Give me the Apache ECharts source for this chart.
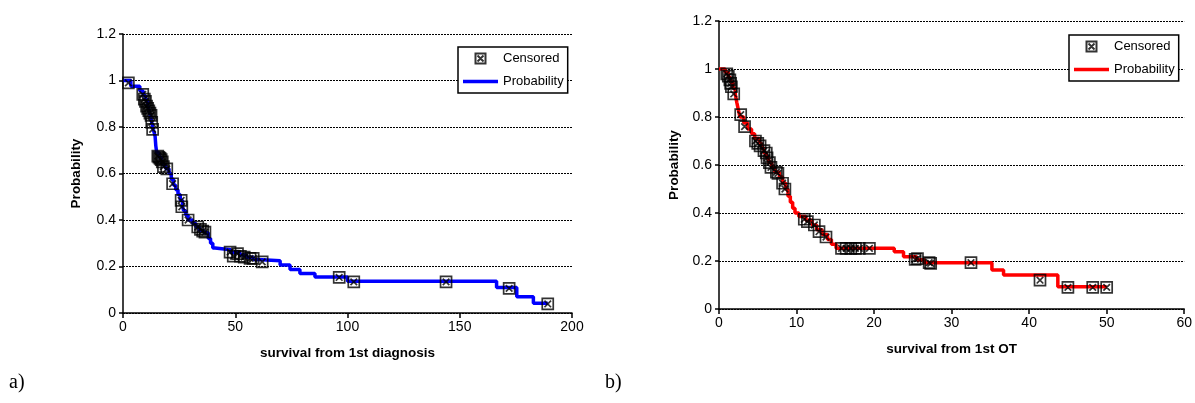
<!DOCTYPE html>
<html>
<head>
<meta charset="utf-8">
<script src="https://cdn.jsdelivr.net/npm/echarts@6/dist/echarts.min.js"></script>
<style>
  html, body { margin: 0; padding: 0; background: #fff; }
  #main { width: 1195px; height: 403px; }
</style>
</head>
<body>
<div id="main"></div>
<script>
// a) survival from 1st diagnosis: Kaplan-Meier steps [time, probability]
const stepsA = [
  [0, 1], [3.5, 0.975], [7.5, 0.955], [9, 0.935], [10, 0.915], [11, 0.895],
  [11.5, 0.875], [12, 0.855], [12.5, 0.835], [13, 0.81], [13.5, 0.79],
  [14.3, 0.76], [14.6, 0.72], [15, 0.69], [16, 0.67], [17, 0.65], [18, 0.635],
  [19, 0.62], [20.5, 0.6], [21.5, 0.575], [22.5, 0.55], [23.5, 0.53],
  [24.5, 0.51], [25.5, 0.485], [26.5, 0.46], [27, 0.44], [28, 0.42], [29, 0.4],
  [31, 0.385], [32.5, 0.37], [34, 0.355], [36, 0.345], [38, 0.32], [39, 0.3],
  [40, 0.28], [41, 0.272], [48, 0.26], [52, 0.25], [55, 0.24], [58, 0.23],
  [60, 0.225], [70, 0.206], [74.4, 0.187], [78.8, 0.17], [85.5, 0.155],
  [100, 0.137], [166.4, 0.11], [175.4, 0.07], [182.8, 0.042], [189.2, 0.042]
]
// a) censored observations
const censoredA = [
  [2.4, 0.99], [8.8, 0.94], [9.5, 0.92], [10, 0.91], [10.5, 0.89], [11, 0.88],
  [11.5, 0.87], [12, 0.86], [12.5, 0.85], [12.8, 0.82], [13.2, 0.79],
  [15.5, 0.675], [16, 0.67], [16.5, 0.665], [17, 0.66], [17.5, 0.65],
  [18, 0.63], [19.5, 0.62], [22.1, 0.556], [25.9, 0.484], [26.2, 0.457],
  [29, 0.4], [33.3, 0.37], [34.5, 0.36], [35.5, 0.352], [36.5, 0.348],
  [47.7, 0.262], [49.1, 0.245], [51, 0.255], [52.3, 0.244], [54, 0.24],
  [56.6, 0.235], [58, 0.235], [62, 0.22], [96.3, 0.153], [102.8, 0.134],
  [143.9, 0.134], [172, 0.106], [189.2, 0.039]
]

// b) survival from 1st OT
const stepsB = [
  [0, 1], [0.8, 0.985], [1.2, 0.965], [1.5, 0.945], [1.8, 0.92], [2.1, 0.895],
  [2.3, 0.86], [2.5, 0.83], [2.7, 0.8], [3.2, 0.775], [3.7, 0.75], [4.2, 0.73],
  [4.6, 0.71], [5.2, 0.69], [5.5, 0.67], [5.8, 0.65], [6.1, 0.63], [6.4, 0.61],
  [6.8, 0.59], [7.2, 0.57], [7.8, 0.55], [8.2, 0.525], [8.6, 0.5], [8.9, 0.47],
  [9.2, 0.445], [9.5, 0.42], [9.8, 0.4], [10.3, 0.385], [11.2, 0.37],
  [12, 0.35], [12.6, 0.33], [13.3, 0.31], [14, 0.29], [14.5, 0.27],
  [15.1, 0.253], [22.6, 0.239], [23.8, 0.218], [25.5, 0.205], [26.5, 0.193],
  [35.2, 0.163], [36.7, 0.142], [43.7, 0.093], [50, 0.093]
]
const censoredB = [
  [1.0, 0.98], [1.2, 0.97], [1.4, 0.955], [1.5, 0.94], [1.6, 0.926],
  [1.9, 0.896], [2.8, 0.81], [3.3, 0.76], [4.7, 0.7], [5.0, 0.69], [5.3, 0.68],
  [5.8, 0.66], [6.1, 0.65], [6.2, 0.63], [6.5, 0.61], [6.7, 0.59], [7.4, 0.57],
  [7.6, 0.565], [8.2, 0.524], [8.5, 0.5], [11.0, 0.374], [11.4, 0.364],
  [12.3, 0.35], [12.9, 0.322], [13.8, 0.3], [15.8, 0.253], [16.4, 0.253],
  [17, 0.253], [17.6, 0.253], [18.1, 0.253], [19.4, 0.253], [25.3, 0.207],
  [25.6, 0.21], [27.1, 0.193], [27.3, 0.19], [32.5, 0.193], [41.4, 0.12],
  [45, 0.09], [48.2, 0.09], [50, 0.09]
]

// axis ranges
const xMaxA = 200
const xStepA = 50
const xMaxB = 60
const xStepB = 10
const yMax = 1.2
const yStep = 0.2

const font = 'Liberation Sans, Arial, sans-serif'
// square with a cross inside (censored mark)
const boxX = 'path://M0,0L10,0L10,10L0,10Z M2,2L8,8 M8,2L2,8'
// plain line for the legend (no dot in the middle)
const lineIcon = 'path://M0,0L35,0L35,3.5L0,3.5Z'

const chart = echarts.init(document.getElementById('main'))

function xAxis (gridIndex, max, interval, name) {
  return {
    type: 'value',
    gridIndex: gridIndex,
    min: 0,
    max: max,
    interval: interval,
    name: name,
    nameLocation: 'middle',
    nameGap: 33,
    nameTextStyle: { color: '#000', fontFamily: font, fontSize: 13.5, fontWeight: 'bold' },
    axisLine: { lineStyle: { color: '#000', width: 1.5 } },
    axisTick: { length: 5, lineStyle: { color: '#000', width: 1.5 } },
    axisLabel: { color: '#000', fontFamily: font, fontSize: 14, margin: 7 },
    splitLine: { show: false }
  }
}

function yAxis (gridIndex, nameGap) {
  return {
    type: 'value',
    gridIndex: gridIndex,
    min: 0,
    max: yMax,
    interval: yStep,
    name: 'Probability',
    nameLocation: 'middle',
    nameGap: nameGap,
    nameRotate: 90,
    nameTextStyle: { color: '#000', fontFamily: font, fontSize: 13.5, fontWeight: 'bold' },
    axisLine: { show: true, lineStyle: { color: '#000', width: 1.5 } },
    axisTick: { show: true, length: 4, lineStyle: { color: '#000', width: 1.5 } },
    axisLabel: { color: '#000', fontFamily: font, fontSize: 14, margin: 7 },
    splitLine: { show: true, lineStyle: { color: '#000', width: 1, type: [2, 1] } }
  }
}

function legend (left, top, suffix) {
  return {
    left: left,
    top: top,
    orient: 'vertical',
    data: [
      { name: 'Censored' + suffix },
      { name: 'Probability' + suffix, icon: lineIcon }
    ],
    formatter: (name) => name.split('-')[0],
    backgroundColor: '#fff',
    borderColor: '#000',
    borderWidth: 1.5,
    borderRadius: 0,
    padding: [5, 4, 5, 5],
    itemWidth: 35,
    itemHeight: 10,
    itemGap: 10,
    textStyle: { color: '#000', fontFamily: font, fontSize: 13 }
  }
}

function censored (name, idx, data) {
  return {
    name: name,
    type: 'scatter',
    xAxisIndex: idx,
    yAxisIndex: idx,
    data: data,
    symbol: boxX,
    symbolSize: 11,
    symbolKeepAspect: true,
    z: 5,
    itemStyle: { color: 'transparent', borderColor: '#000', borderWidth: 1.7 }
  }
}

function steps (name, idx, data, color) {
  return {
    name: name,
    type: 'line',
    xAxisIndex: idx,
    yAxisIndex: idx,
    data: data,
    step: 'end',
    symbol: 'none',
    z: 2,
    itemStyle: { color: color },
    lineStyle: { color: color, width: 3.5 }
  }
}

const option = {
  animation: false,
  backgroundColor: '#fff',
  title: [
    { text: 'a)', left: 4, top: 368, textStyle: { fontFamily: 'Liberation Serif, Times New Roman, serif', fontSize: 20, fontWeight: 'normal', color: '#000' } },
    { text: 'b)', left: 600, top: 368, textStyle: { fontFamily: 'Liberation Serif, Times New Roman, serif', fontSize: 20, fontWeight: 'normal', color: '#000' } }
  ],
  grid: [
    { left: 123, top: 34, width: 449, height: 279 },
    { left: 719, top: 21, width: 469, height: 288 }
  ],
  xAxis: [
    xAxis(0, xMaxA, xStepA, 'survival from 1st diagnosis'),
    xAxis(1, xMaxB, xStepB, 'survival from 1st OT')
  ],
  yAxis: [yAxis(0, 40), yAxis(1, 38)],
  legend: [legend(458, 47, '-a'), legend(1069, 35, '-b')],
  series: [
    steps('Probability-a', 0, stepsA, '#0000ff'),
    censored('Censored-a', 0, censoredA),
    steps('Probability-b', 1, stepsB, '#ff0000'),
    censored('Censored-b', 1, censoredB)
  ]
}

chart.setOption(option)
</script>
</body>
</html>
